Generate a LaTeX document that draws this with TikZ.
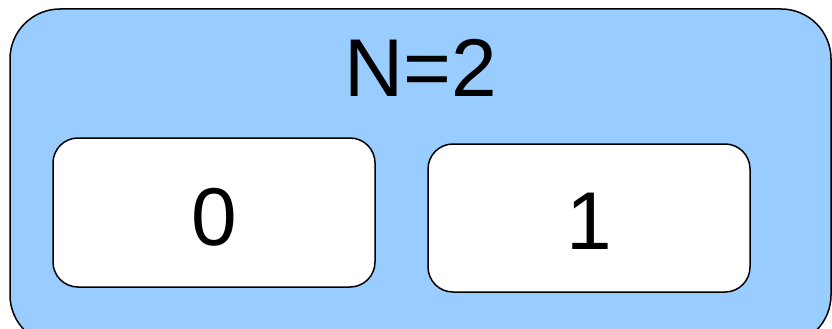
\documentclass[tikz,border=0pt]{standalone}
\usepackage{fontspec}
\setmainfont{Liberation Sans}
\definecolor{outerblue}{HTML}{99CCFF}
\begin{document}
\begin{tikzpicture}[x=1pt,y=-1pt,
  outerbox/.style={draw=black, line width=1.5pt, fill=outerblue, rounded corners=50pt},
  cellbox/.style={draw=black, line width=1.5pt, fill=white, rounded corners=25pt},
  bigtext/.style={font=\fontsize{82}{98}\selectfont, inner sep=0pt}]
\useasboundingbox (0,0) rectangle (832,329);
\begin{scope}
\clip (0,0) rectangle (832,329);
\draw[outerbox] (10,9) rectangle (831,345);
\end{scope}
\draw[cellbox] (53,138) rectangle (375,287);
\draw[cellbox] (428,144) rectangle (750,292);
\node[bigtext] (title) at (421,68) {N=2};
\node[bigtext] (zero) at (214,217) {0};
\node[bigtext] (one) at (589,221) {1};
\end{tikzpicture}
\end{document}
